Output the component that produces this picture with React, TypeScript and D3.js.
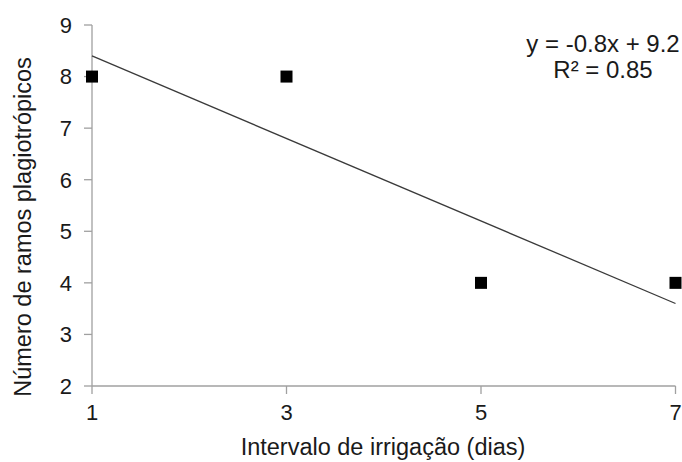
import React from "react";
import * as d3 from "d3";

const xValues = [1, 3, 5, 7];
const yValues = [8, 8, 4, 4];
const xTicks = [1, 3, 5, 7];
const yTicks = [2, 3, 4, 5, 6, 7, 8, 9];
const slope = -0.8;
const intercept = 9.2;
const equationText = "y = -0.8x + 9.2";
const r2Text = "R² = 0.85";
const xTitle = "Intervalo de irrigação (dias)";
const yTitle = "Número de ramos plagiotrópicos";

const width = 682;
const height = 462;
const font = "'Liberation Sans', Arial, sans-serif";
const axisColor = "#a0a0a0";
const textColor = "#1a1a1a";

export default function App() {
  const x = d3.scaleLinear().domain([1, 7]).range([92, 675.5]);
  const y = d3.scaleLinear().domain([2, 9]).range([386, 25]);

  const points = xValues.map((v, i) => ({ x: v, y: yValues[i] }));
  const fitLine = d3.line<number>()
    .x(d => x(d))
    .y(d => y(slope * d + intercept));

  return (
    <svg width={width} height={height}
      style={{ position: "absolute", left: 0, top: 0, background: "#fff" }}
      fontFamily={font}>
      {/* y axis */}
      <line x1={x(1)} x2={x(1)} y1={y(9)} y2={y(2)} stroke={axisColor} strokeWidth={1.3} />
      {yTicks.map(t => (
        <g key={t}>
          <line x1={x(1) - 8} x2={x(1)} y1={y(t)} y2={y(t)} stroke={axisColor} strokeWidth={1.3} />
          <text x={x(1) - 20} y={y(t)} dy="0.36em" textAnchor="end" fontSize={22} fill={textColor}>{t}</text>
        </g>
      ))}
      {/* x axis */}
      <line x1={x(1)} x2={x(7)} y1={y(2)} y2={y(2)} stroke={axisColor} strokeWidth={1.3} />
      {xTicks.map(t => (
        <g key={t}>
          <line x1={x(t)} x2={x(t)} y1={y(2)} y2={y(2) + 8} stroke={axisColor} strokeWidth={1.3} />
          <text x={x(t)} y={y(2) + 34} textAnchor="middle" fontSize={22} fill={textColor}>{t}</text>
        </g>
      ))}
      {/* trend line */}
      <path d={fitLine([1, 7]) || ""} fill="none" stroke="#3a3a3a" strokeWidth={1.3} />
      {/* markers */}
      {points.map((p, i) => (
        <rect key={i} x={x(p.x) - 6} y={y(p.y) - 6} width={12} height={12} fill="#000" />
      ))}
      {/* equation */}
      <text x={603} y={52} textAnchor="middle" fontSize={24} fill={textColor}>{equationText}</text>
      <text x={603} y={78} textAnchor="middle" fontSize={24} fill={textColor}>{r2Text}</text>
      {/* titles */}
      <text x={383} y={455} textAnchor="middle" fontSize={23.5} fill={textColor}>{xTitle}</text>
      <text transform={`translate(31, 227) rotate(-90)`} textAnchor="middle" fontSize={23.5} fill={textColor}>{yTitle}</text>
    </svg>
  );
}
